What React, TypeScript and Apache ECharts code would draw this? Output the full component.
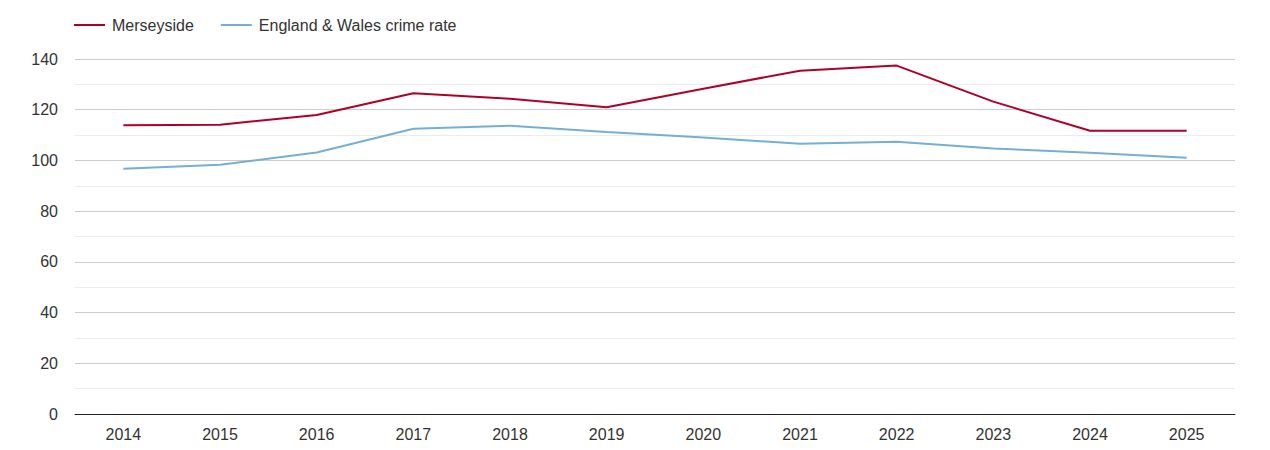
import React, { useEffect, useRef } from "react";
import * as echarts from "echarts";

const years = ["2014", "2015", "2016", "2017", "2018", "2019", "2020", "2021", "2022", "2023", "2024", "2025"];
const merseyside = [113.9, 114.1, 117.9, 126.5, 124.3, 121.0, 128.3, 135.4, 137.4, 123.2, 111.7, 111.7];
const englandWales = [96.7, 98.3, 103.1, 112.5, 113.7, 111.2, 109.0, 106.6, 107.4, 104.7, 103.0, 101.1];
const yTicks = [0, 20, 40, 60, 80, 100, 120, 140];

const FONT = "'Liberation Sans', Arial, Helvetica, sans-serif";

export default function App() {
  const ref = useRef<HTMLDivElement>(null);
  useEffect(() => {
    if (!ref.current) return;
    const chart = echarts.init(ref.current, undefined, { renderer: "svg" });
    chart.setOption({
      animation: false,
      textStyle: { fontFamily: FONT },
      legend: {
        left: 69,
        top: 12,
        icon: "rect",
        itemWidth: 31,
        itemHeight: 2,
        itemGap: 27,
        textStyle: { fontSize: 16, color: "#333", fontFamily: FONT, padding: [0, 0, 0, 2] },
        data: ["Merseyside", "England & Wales crime rate"],
      },
      grid: { left: 75, right: 35, top: 59, bottom: 36, containLabel: false },
      xAxis: {
        type: "category",
        data: years,
        boundaryGap: true,
        axisLine: { show: true, lineStyle: { color: "#222", width: 1 } },
        axisTick: { show: false },
        axisLabel: { fontSize: 16, color: "#333", margin: 12, fontFamily: FONT },
        splitLine: { show: false },
      },
      yAxis: {
        type: "value",
        min: yTicks[0],
        max: yTicks[yTicks.length - 1],
        interval: 20,
        axisLine: { show: false },
        axisTick: { show: false },
        axisLabel: { fontSize: 16, color: "#333", margin: 17, fontFamily: FONT },
        splitLine: { show: true, lineStyle: { color: "#cccccc", width: 1 } },
        minorTick: { show: false, splitNumber: 2 },
        minorSplitLine: { show: true, lineStyle: { color: "#ececec", width: 1 } },
      },
      series: [
        {
          name: "Merseyside",
          type: "line",
          data: merseyside,
          symbol: "none",
          lineStyle: { color: "#b00028", width: 2 },
          itemStyle: { color: "#b00028" },
        },
        {
          name: "England & Wales crime rate",
          type: "line",
          data: englandWales,
          symbol: "none",
          lineStyle: { color: "#74afd6", width: 2 },
          itemStyle: { color: "#74afd6" },
        },
      ],
    });
    return () => chart.dispose();
  }, []);
  return <div ref={ref} style={{ width: 1270, height: 450, margin: -8 }} />;
}
